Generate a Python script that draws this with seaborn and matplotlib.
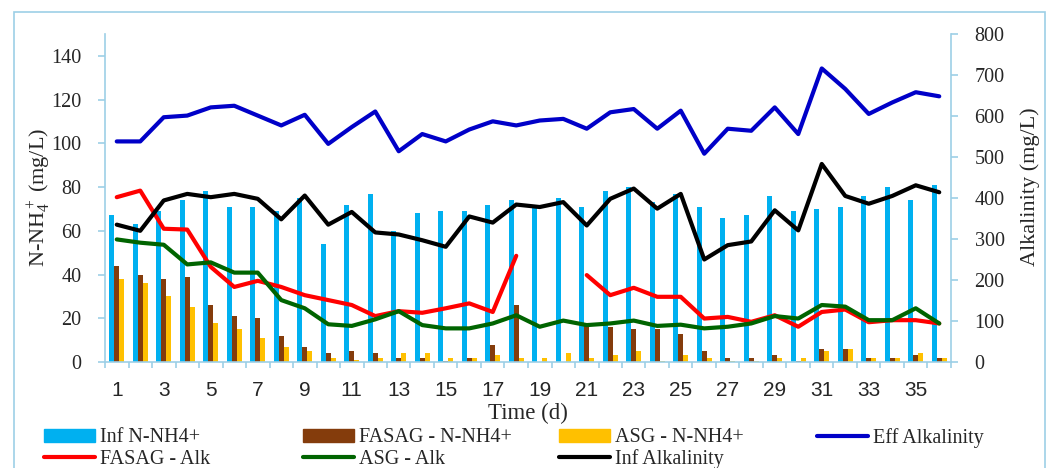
import numpy as np
import pandas as pd
import matplotlib
matplotlib.use("Agg")
import matplotlib.pyplot as plt
from matplotlib.patches import Patch, Rectangle
from matplotlib.lines import Line2D
import seaborn as sns

# Daily measurements over the 36-day run
days = list(range(1, 37))

inf_nh4 = [67, 63, 69, 74, 78, 71, 71, 69, 75, 54, 72, 77, 60, 68, 69, 69, 72, 74,
           72, 75, 71, 78, 80, 73, 77, 71, 66, 67, 76, 69, 70, 71, 76, 80, 74, 81]
fasag_nh4 = [44, 40, 38, 39, 26, 21, 20, 12, 7, 4, 5, 4, 2, 2, 0.5, 2, 8, 26,
             0, 0, 17, 16, 15, 15, 13, 5, 2, 2, 3, 0.5, 6, 6, 2, 2, 3, 2]
asg_nh4 = [38, 36, 30, 25, 18, 15, 11, 7, 5, 2, 1, 2, 4, 4, 2, 2, 3, 2,
           2, 4, 2, 3, 5, 0.5, 3, 2, 0.5, 0.5, 2, 2, 5, 6, 2, 2, 4, 2]

eff_alk = [538, 538, 597, 601, 621, 625, 601, 577, 603, 532, 573, 611, 514, 556, 538, 567, 587, 577,
           589, 593, 569, 609, 617, 569, 613, 508, 569, 564, 621, 556, 716, 666, 605, 633, 658, 648]
fasag_alk = [402, 418, 325, 323, 232, 183, 198, 183, 163, 151, 139, 112, 124, 120, 131, 143, 122, 259,
             np.nan, np.nan, 212, 163, 181, 159, 159, 106, 110, 98, 114, 86, 122, 128, 97, 102, 102, 94]
asg_alk = [299, 291, 286, 238, 243, 218, 218, 151, 131, 92, 88, 104, 124, 90, 82, 82, 94, 114,
           86, 101, 90, 94, 101, 88, 91, 82, 86, 94, 112, 106, 139, 135, 102, 102, 131, 94]
inf_alk = [335, 320, 394, 410, 402, 410, 398, 348, 406, 335, 366, 316, 311, 297, 281, 355, 340, 384,
           378, 390, 333, 398, 423, 374, 410, 250, 285, 294, 370, 321, 483, 405, 386, 405, 431, 414]

bar_names = ["Inf N-NH4+", "FASAG - N-NH4+", "ASG - N-NH4+"]
bar_colors = ["#00B0F0", "#843C0C", "#FFC000"]
line_names = ["Eff Alkalinity", "FASAG - Alk", "ASG - Alk", "Inf Alkalinity"]
line_colors = ["#0000C8", "#FF0000", "#006400", "#000000"]

AXIS_BLUE = "#9DCFE6"
SERIF = ["Liberation Serif", "DejaVu Serif"]

sns.set_theme(style="white")
plt.rcParams["font.family"] = SERIF
plt.rcParams["mathtext.fontset"] = "custom"
plt.rcParams["mathtext.rm"] = "Liberation Serif"
plt.rcParams["mathtext.it"] = "Liberation Serif:italic"
plt.rcParams["mathtext.bf"] = "Liberation Serif:bold"

W, H = 1051, 468
fig = plt.figure(figsize=(W / 100, H / 100), dpi=100)
ax = fig.add_axes([105 / W, 106 / H, 846 / W, 328 / H])

# Ammonium bars (left axis)
day_labels = [str(d) for d in days]
bars = pd.DataFrame({
    "day": day_labels * 3,
    "series": sum([[n] * len(days) for n in bar_names], []),
    "value": inf_nh4 + fasag_nh4 + asg_nh4,
})
sns.barplot(data=bars, x="day", y="value", hue="series", order=day_labels,
            hue_order=bar_names, palette=dict(zip(bar_names, bar_colors)),
            width=0.64, dodge=True, saturation=1, errorbar=None,
            legend=False, ax=ax, linewidth=0)
ax.set_xlim(-0.5, 35.5)
ax.set_ylim(0, 150)

# Alkalinity lines (right axis)
ax2 = ax.twinx()
pos = np.arange(len(days))
for vals, col in zip([eff_alk, fasag_alk, asg_alk, inf_alk], line_colors):
    v = np.asarray(vals, dtype=float)
    ok = ~np.isnan(v)
    # draw each unbroken run separately so gaps stay open
    edges = np.flatnonzero(np.diff(np.r_[0, ok.astype(int), 0]))
    for s, e in zip(edges[::2], edges[1::2]):
        sns.lineplot(x=pos[s:e], y=v[s:e], ax=ax2, color=col, linewidth=3,
                     legend=False, sort=False)
ax2.set_ylim(0, 800)
ax2.set_xlim(-0.5, 35.5)

# Spines and ticks
for a in (ax, ax2):
    for s in a.spines.values():
        s.set_visible(False)
        s.set_color(AXIS_BLUE)
        s.set_linewidth(1.2)
ax.spines["left"].set_visible(True)
ax.spines["bottom"].set_visible(True)
ax2.spines["right"].set_visible(True)

ax.set_yticks(range(0, 141, 20))
ax.tick_params(axis="y", left=True, direction="out", length=5, width=1.2,
               color=AXIS_BLUE, labelsize=14.5, pad=12)
ax2.set_yticks(range(0, 801, 100))
ax2.tick_params(axis="y", right=True, direction="out", length=5, width=1.2,
                color=AXIS_BLUE, labelsize=14.5, pad=12)

ax.set_xticks(pos)
ax.set_xticklabels([str(d) if d % 2 == 1 else "" for d in days])
ax.tick_params(axis="x", which="major", bottom=False, length=0, pad=14,
               labelsize=15, labelfontfamily="Liberation Sans")
ax.set_xticks(np.arange(-0.5, 36, 1), minor=True)
ax.tick_params(axis="x", which="minor", bottom=True, direction="out",
               length=4, width=1.2, color=AXIS_BLUE)

ax.set_xlabel("Time (d)", fontsize=16.5)
ax.xaxis.set_label_coords(0.5, (362 - 413) / 328)
ax.xaxis.label.set_va("center")

ax.set_ylabel("N-NH$_4^+$ (mg/L)", fontsize=16)
ax.yaxis.set_label_coords((39 - 105) / 846, 0.503)
ax.yaxis.label.set_va("center")

ax2.set_ylabel("Alkalinity (mg/L)", fontsize=16)
ax2.yaxis.set_label_coords((1030 - 105) / 846, 0.534)
ax2.yaxis.label.set_va("center")
ax2.yaxis.label.set_rotation(90)

# Legend: four columns, two rows
entries = [
    (Patch(color=bar_colors[0]), bar_names[0], 44, 438),
    (Patch(color=bar_colors[1]), bar_names[1], 303, 438),
    (Patch(color=bar_colors[2]), bar_names[2], 559, 438),
    (Line2D([], [], color=line_colors[0], lw=3), line_names[0], 817, 438),
    (Line2D([], [], color=line_colors[1], lw=3), line_names[1], 44, 459),
    (Line2D([], [], color=line_colors[2], lw=3), line_names[2], 303, 459),
    (Line2D([], [], color=line_colors[3], lw=3), line_names[3], 559, 459),
]
for h, lab, x, y in entries:
    fig.legend([h], [lab], loc="center left", bbox_to_anchor=(x / W, 1 - y / H),
               frameon=False, borderpad=0, borderaxespad=0, fontsize=14.5,
               handlelength=2.55, handleheight=0.6, handletextpad=0.25)

# Chart-area frame
fig.add_artist(Rectangle((14 / W, -0.05), (1045 - 14) / W, 1.05 - 12 / H,
                         transform=fig.transFigure, fill=False,
                         edgecolor=AXIS_BLUE, linewidth=1.2, clip_on=False))

fig.savefig("out.png", dpi=100)
